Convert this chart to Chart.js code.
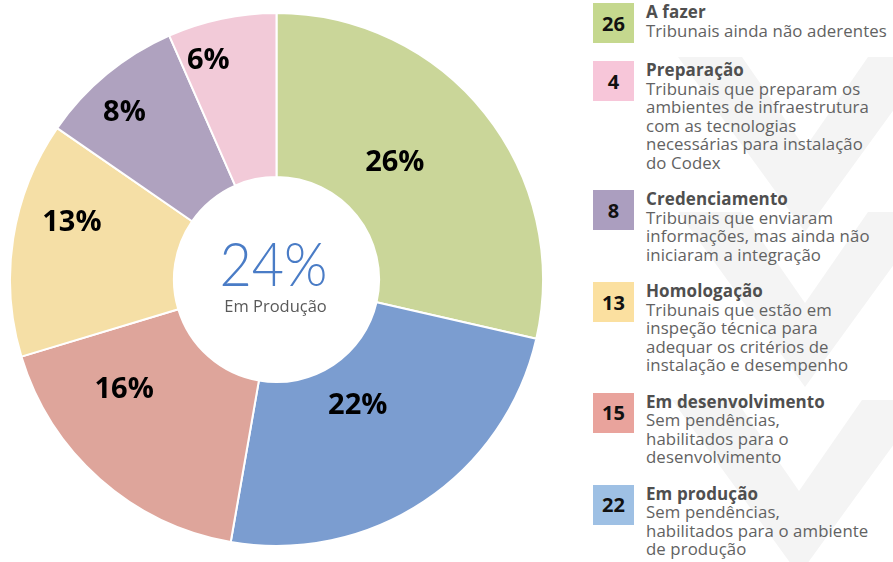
<!DOCTYPE html>
<html lang="pt-BR">
  <head>
    <meta charset="UTF-8" />
    <title>Tribunais - Codex</title>
    <script src="https://cdn.jsdelivr.net/npm/chart.js@4.4.1/dist/chart.umd.min.js"></script>
    <style>
      html, body { margin: 0; padding: 0; background: #fff; }
      .page { position: relative; width: 893px; height: 562px; overflow: hidden; font-family: 'Open Sans', 'Noto Sans', sans-serif; }
      .mark { position: absolute; left: 0; top: 0; }
      .chart-view { position: absolute; left: 9px; top: 12px; width: 535px; height: 535px; }
      .legend { position: absolute; left: 593px; top: 3px; width: 300px; }
      .item { display: flex; margin-bottom: 18px; }
      .sw { width: 41px; height: 40px; flex: none; display: flex; align-items: center; justify-content: center;
            font-weight: 700; font-size: 20px; color: #111; margin-right: 12px; }
      .txt { font-size: 16.8px; line-height: 18.5px; color: #626262; white-space: nowrap; letter-spacing: 0.1px; }
      .txt b { color: #4f4f4f; font-size: 17px; }
    </style>
  </head>
  <body>
    <div class="page">
      <svg class="mark" width="893" height="562">
        <g fill="#f4f4f4">
          <polygon points="678,57 742,57 805,148 868,57 932,57 805,232" />
          <polygon points="678,212 742,212 805,303 868,212 932,212 805,387" />
          <polygon points="672,400 736,400 799,491 862,400 926,400 799,575" />
        </g>
      </svg>
      <div class="chart-view">
        <canvas id="chart"></canvas>
      </div>
      <div class="legend" id="legend"></div>
    </div>

    <script>
      //data (legend order)
      const categories = ['A fazer', 'Preparação', 'Credenciamento', 'Homologação', 'Em desenvolvimento', 'Em produção'];
      const counts = [26, 4, 8, 13, 15, 22];
      const percents = [26, 6, 8, 13, 16, 22];
      const descriptions = [
        ['Tribunais ainda não aderentes'],
        ['Tribunais que preparam os', 'ambientes de infraestrutura', 'com as tecnologias', 'necessárias para instalação', 'do Codex'],
        ['Tribunais que enviaram', 'informações, mas ainda não', 'iniciaram a integração'],
        ['Tribunais que estão em', 'inspeção técnica para', 'adequar os critérios de', 'instalação e desempenho'],
        ['Sem pendências,', 'habilitados para o', 'desenvolvimento'],
        ['Sem pendências,', 'habilitados para o ambiente', 'de produção']
      ];
      const centerValue = '24%';
      const centerLabel = 'Em Produção';

      // order of slices, clockwise from the top
      const sliceOrder = [0, 5, 4, 3, 2, 1];

      //styles
      const sliceColors = ['#cad699', '#f2cad8', '#afa2bf', '#f5dfa6', '#dea59b', '#7b9dd0'];
      const swatchColors = ['#c5d88e', '#f7c6d9', '#ab9ebf', '#fbe0a0', '#e9a39c', '#9ec0e4'];
      // label placement inside each slice: share of the angle, share of the ring depth
      const labelAngle = [0.44, 0.27, 0.41, 0.63, 0.70, 0.51];
      const labelDepth = [0.39, 0.77, 0.75, 0.67, 0.52, 0.29];

      //legend
      const legendEl = document.getElementById('legend');
      categories.forEach((name, i) => {
        const item = document.createElement('div');
        item.className = 'item';
        item.innerHTML =
          '<div class="sw" style="background:' + swatchColors[i] + '">' + counts[i] + '</div>' +
          '<div class="txt"><b>' + name + '</b><br>' + descriptions[i].join('<br>') + '</div>';
        legendEl.appendChild(item);
      });

      //plugins
      const sliceLabels = {
        id: 'sliceLabels',
        afterDatasetsDraw(chart) {
          const ctx = chart.ctx;
          const arcs = chart.getDatasetMeta(0).data;
          ctx.save();
          ctx.font = '700 29px "Open Sans", sans-serif';
          ctx.fillStyle = '#000';
          ctx.textAlign = 'center';
          ctx.textBaseline = 'middle';
          arcs.forEach((arc, k) => {
            const i = sliceOrder[k];
            const p = arc.getProps(['x', 'y', 'startAngle', 'endAngle', 'innerRadius', 'outerRadius'], true);
            const a = p.startAngle + (p.endAngle - p.startAngle) * labelAngle[i];
            const r = p.innerRadius + (p.outerRadius - p.innerRadius) * labelDepth[i];
            ctx.fillText(percents[i] + '%', p.x + Math.cos(a) * r, p.y + Math.sin(a) * r);
          });
          ctx.restore();
        }
      };

      const centerText = {
        id: 'centerText',
        afterDraw(chart) {
          const ctx = chart.ctx;
          const arc = chart.getDatasetMeta(0).data[0];
          const cx = arc.x, cy = arc.y;
          ctx.save();
          ctx.textAlign = 'center';
          ctx.textBaseline = 'alphabetic';
          ctx.font = '300 62px Lato, "Open Sans", sans-serif';
          ctx.fillStyle = '#4a7cc6';
          const w = ctx.measureText(centerValue).width;
          const sx = Math.min(1, 108 / w);
          ctx.translate(cx - 3, cy + 6);
          ctx.scale(sx, 1);
          ctx.fillText(centerValue, 0, 0);
          ctx.restore();
          ctx.save();
          ctx.textAlign = 'center';
          ctx.textBaseline = 'middle';
          ctx.font = '16.5px "Open Sans", sans-serif';
          ctx.fillStyle = '#595959';
          ctx.fillText(centerLabel, cx - 1, cy + 28);
          ctx.restore();
        }
      };

      //config
      const config = {
        type: 'doughnut',
        data: {
          labels: sliceOrder.map((i) => categories[i]),
          datasets: [{
            data: sliceOrder.map((i) => percents[i]),
            backgroundColor: sliceOrder.map((i) => sliceColors[i]),
            borderColor: '#ffffff',
            borderWidth: 2
          }]
        },
        options: {
          responsive: true,
          maintainAspectRatio: false,
          animation: false,
          cutout: '38.5%',
          layout: { padding: 0 },
          plugins: {
            legend: { display: false },
            tooltip: { enabled: false }
          }
        },
        plugins: [sliceLabels, centerText]
      };

      //init
      const chart = new Chart(document.getElementById('chart'), config);
    </script>
  </body>
</html>
